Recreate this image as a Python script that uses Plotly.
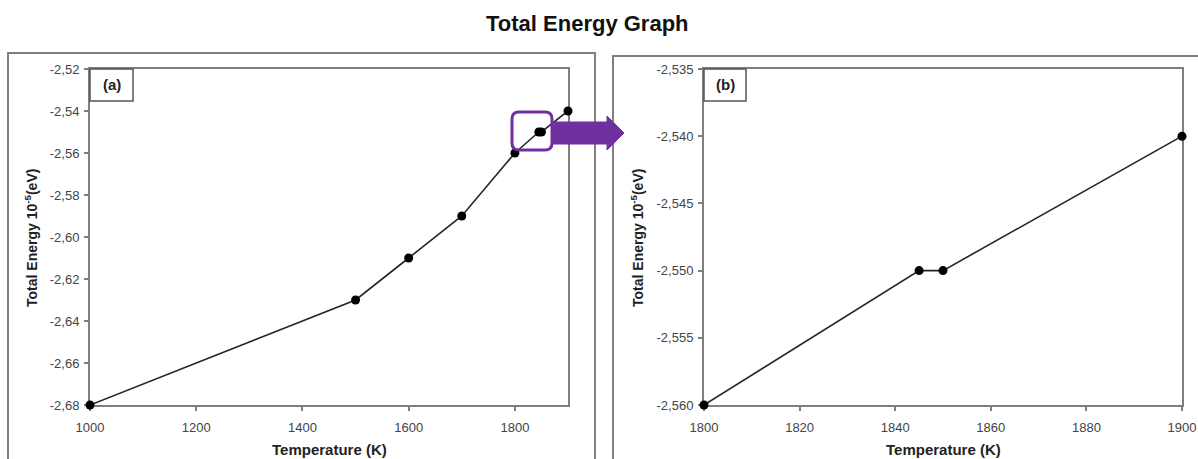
import plotly.graph_objects as go

# Total energy vs temperature
temps_a = [1000, 1500, 1600, 1700, 1800, 1845, 1850, 1900]
energy_a = [-2.68, -2.63, -2.61, -2.59, -2.56, -2.55, -2.55, -2.54]

temps_b = [1800, 1845, 1850, 1900]
energy_b = [-2.560, -2.550, -2.550, -2.540]

xticks_a = [1000, 1200, 1400, 1600, 1800]
yticks_a = [-2.68, -2.66, -2.64, -2.62, -2.60, -2.58, -2.56, -2.54, -2.52]
ylabels_a = ["-2,68", "-2,66", "-2,64", "-2,62", "-2,60", "-2,58", "-2,56",
             "-2,54", "-2,52"]
xticks_b = [1800, 1820, 1840, 1860, 1880, 1900]
yticks_b = [-2.560, -2.555, -2.550, -2.545, -2.540, -2.535]
ylabels_b = ["-2,560", "-2,555", "-2,550", "-2,545", "-2,540", "-2,535"]

W, H = 1198, 459
FONT = "Liberation Sans, Arial, sans-serif"
GREY = "#7f7f7f"
PURPLE = "#7030a0"


def px(x):
    return x / W


def py(y):
    return 1 - y / H


fig = go.Figure()
line_style = dict(color="#262626", width=1.6)
marker_style = dict(color="black", size=9)
fig.add_trace(go.Scatter(x=temps_a, y=energy_a, mode="lines+markers",
                         line=line_style, marker=marker_style, cliponaxis=False,
                         xaxis="x", yaxis="y", showlegend=False))
fig.add_trace(go.Scatter(x=temps_b, y=energy_b, mode="lines+markers",
                         line=line_style, marker=marker_style, cliponaxis=False,
                         xaxis="x2", yaxis="y2", showlegend=False))

axis_common = dict(showline=True, linecolor=GREY, linewidth=2, mirror=True,
                   ticks="outside", ticklen=4, tickcolor=GREY, tickwidth=1.5,
                   showgrid=False, zeroline=False, automargin=False,
                   layer="below traces",
                   tickfont=dict(family=FONT, size=13, color="#444444"))

ydom = [py(405), py(69)]
fig.update_layout(
    width=W, height=H,
    margin=dict(l=0, r=0, t=0, b=0, pad=0, autoexpand=False),
    paper_bgcolor="white", plot_bgcolor="white",
    font=dict(family=FONT),
    xaxis=dict(domain=[px(90), px(568)], range=[1000, 1900],
               tickvals=xticks_a, anchor="y", ticklabelstandoff=5,
               **axis_common),
    yaxis=dict(domain=ydom, range=[-2.68, -2.52], tickvals=yticks_a,
               ticktext=ylabels_a, anchor="x", ticklabelstandoff=2,
               **axis_common),
    xaxis2=dict(domain=[px(704), px(1182)], range=[1800, 1900],
                tickvals=xticks_b, anchor="y2", ticklabelstandoff=5,
                **axis_common),
    yaxis2=dict(domain=ydom, range=[-2.560, -2.535], tickvals=yticks_b,
                ticktext=ylabels_b, anchor="x2", ticklabelstandoff=2,
                **axis_common),
)

shapes = [
    # outer panel frames
    dict(type="rect", xref="paper", yref="paper", x0=px(8), x1=px(595),
         y0=py(470), y1=py(53), line=dict(color=GREY, width=2)),
    dict(type="rect", xref="paper", yref="paper", x0=px(613), x1=px(1210),
         y0=py(470), y1=py(56), line=dict(color=GREY, width=2)),
    # panel label boxes
    dict(type="rect", xref="paper", yref="paper", x0=px(90), x1=px(133),
         y0=py(101), y1=py(69), line=dict(color="#555555", width=1.5),
         fillcolor="white"),
    dict(type="rect", xref="paper", yref="paper", x0=px(704), x1=px(746),
         y0=py(101), y1=py(69), line=dict(color="#555555", width=1.5),
         fillcolor="white"),
]

# rounded highlight box
x0, x1, y0, y1, r = 512, 552, 112, 150, 7
path = (f"M {px(x0 + r)},{py(y0)} L {px(x1 - r)},{py(y0)} "
        f"Q {px(x1)},{py(y0)} {px(x1)},{py(y0 + r)} "
        f"L {px(x1)},{py(y1 - r)} Q {px(x1)},{py(y1)} {px(x1 - r)},{py(y1)} "
        f"L {px(x0 + r)},{py(y1)} Q {px(x0)},{py(y1)} {px(x0)},{py(y1 - r)} "
        f"L {px(x0)},{py(y0 + r)} Q {px(x0)},{py(y0)} {px(x0 + r)},{py(y0)} Z")
shapes.append(dict(type="path", xref="paper", yref="paper", path=path,
                   line=dict(color=PURPLE, width=3)))

# arrow pointing to the zoomed panel
pts = [(552, 122), (607, 122), (607, 116), (624, 133), (607, 150),
       (607, 144), (552, 144)]
apath = "M " + " L ".join(f"{px(a)},{py(b)}" for a, b in pts) + " Z"
shapes.append(dict(type="path", xref="paper", yref="paper", path=apath,
                   line=dict(color=PURPLE, width=1), fillcolor=PURPLE))

fig.update_layout(shapes=shapes)


def label(text, x, y, size, angle=0, color="#222222"):
    return dict(text=text, x=px(x), y=py(y), xref="paper", yref="paper",
                xanchor="center", yanchor="middle", showarrow=False,
                textangle=angle, font=dict(family=FONT, size=size, color=color))


annotations = [
    label("<b>Total Energy Graph</b>", 587, 23, 22, color="#111111"),
    label("<b>(a)</b>", 111.5, 85, 15),
    label("<b>(b)</b>", 725, 85, 15),
    label("<b>Temperature (K)</b>", 329, 449, 15),
    label("<b>Temperature (K)</b>", 943, 449, 15),
    label("<b>Total Energy 10<sup>-5</sup>(eV)</b>", 31, 238, 14, angle=-90),
    label("<b>Total Energy 10<sup>-5</sup>(eV)</b>", 637, 238, 14, angle=-90),
]
fig.update_layout(annotations=annotations)

fig.write_html("out.html")
